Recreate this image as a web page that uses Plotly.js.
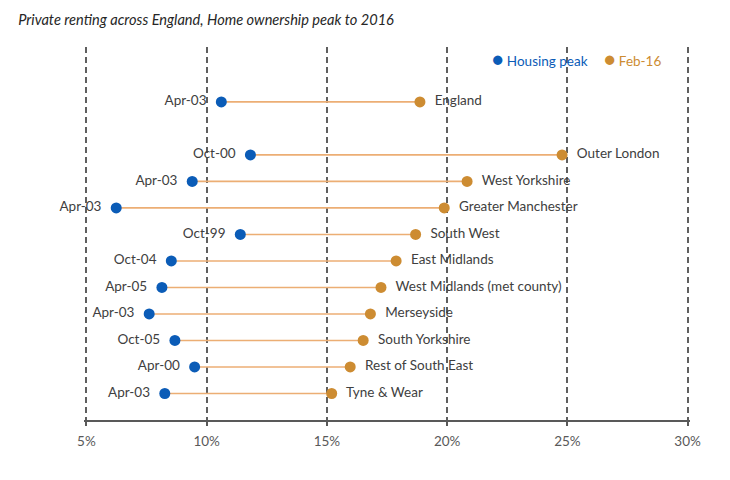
<!DOCTYPE html>
<html>
<head>
<meta charset="utf-8">
<script src="https://cdn.plot.ly/plotly-3.0.1.min.js"></script>
<style>html,body{margin:0;padding:0;background:#fff;}#chart{width:730px;height:480px;}</style>
</head>
<body>
<div id="chart"></div>
<script>
// Rows from bottom to top (England is the top row, set apart by a gap)
const regions = ["Tyne & Wear", "Rest of South East", "South Yorkshire", "Merseyside",
  "West Midlands (met county)", "East Midlands", "South West", "Greater Manchester",
  "West Yorkshire", "Outer London", "England"];
const peakDates = ["Apr-03", "Apr-00", "Oct-05", "Apr-03", "Apr-05", "Oct-04",
  "Oct-99", "Apr-03", "Apr-03", "Oct-00", "Apr-03"];
const peakValues = [8.26, 9.50, 8.68, 7.61, 8.14, 8.53, 11.40, 6.24, 9.40, 11.82, 10.61];
const feb16Values = [15.20, 15.97, 16.51, 16.81, 17.25, 17.88, 18.69, 19.88, 20.83, 24.78, 18.87];
const xTicks = [5, 10, 15, 20, 25, 30];
const xTickLabels = ["5%", "10%", "15%", "20%", "25%", "30%"];

const BLUE = "#0B5CB7";
const ORANGE = "#CD8C32";
const LINE = "#ECAE74";
const TEXT = "#404040";
const FONT = "Lato, 'Open Sans', sans-serif";

// row positions: consecutive, with one empty slot before the England row
const rowPos = regions.map((r, i) => (r === "England" ? i + 2 : i + 1));

const lineX = [], lineY = [];
regions.forEach((r, i) => {
  lineX.push(peakValues[i], feb16Values[i], null);
  lineY.push(rowPos[i], rowPos[i], null);
});

const traces = [
  {
    type: "scatter", mode: "lines", x: lineX, y: lineY,
    line: { color: LINE, width: 1.6 }, hoverinfo: "skip", showlegend: false
  },
  {
    type: "scatter", mode: "markers+text", name: "Housing peak",
    x: peakValues, y: rowPos, text: peakDates, textposition: "middle left",
    texttemplate: "%{text}\u00a0\u00a0",
    marker: { color: BLUE, size: 11 },
    textfont: { family: FONT, size: 13.5, color: TEXT },
    cliponaxis: false, showlegend: false, hoverinfo: "skip"
  },
  {
    type: "scatter", mode: "markers+text", name: "Feb-16",
    x: feb16Values, y: rowPos, text: regions, textposition: "middle right",
    texttemplate: "\u00a0\u00a0%{text}",
    marker: { color: ORANGE, size: 11 },
    textfont: { family: FONT, size: 13.5, color: TEXT },
    cliponaxis: false, showlegend: false, hoverinfo: "skip"
  }
];

const ML = 83.6, MR = 39.6, PW = 730 - ML - MR;

const layout = {
  width: 730, height: 480,
  margin: { l: ML, r: MR, t: 47, b: 60 },
  paper_bgcolor: "#ffffff", plot_bgcolor: "#ffffff",
  font: { family: FONT, color: TEXT, size: 13 },
  title: {
    text: "<i>Private renting across England, Home ownership peak to 2016</i>",
    x: 0.025, xref: "container", xanchor: "left",
    y: 1 - 20 / 480, yref: "container", yanchor: "middle",
    font: { family: FONT, size: 14.6, color: "#262626" }
  },
  xaxis: {
    range: [4.9, 30.1], tickvals: xTicks, ticktext: xTickLabels,
    showgrid: true, gridcolor: "#5f5f5f", gridwidth: 1.5, griddash: "6px,4px",
    showline: true, linecolor: "#595959", linewidth: 1.5,
    ticks: "outside", ticklen: 4, tickcolor: "#595959", tickwidth: 1.5,
    ticklabelstandoff: 4,
    tickfont: { family: FONT, size: 13.5, color: "#595959" },
    zeroline: false, fixedrange: true
  },
  yaxis: {
    range: [0, 14.07], visible: false, showgrid: false, zeroline: false, fixedrange: true
  },
  showlegend: false,
  hovermode: false,
  annotations: [
    {
      xref: "paper", yref: "paper", x: (490 - ML) / PW, y: 1 - (58.5 - 47) / 373,
      xanchor: "left", yanchor: "middle", showarrow: false,
      text: "<span style='font-size:19px'>●</span> Housing peak",
      font: { family: FONT, size: 13.5, color: BLUE }
    },
    {
      xref: "paper", yref: "paper", x: (602 - ML) / PW, y: 1 - (58.5 - 47) / 373,
      xanchor: "left", yanchor: "middle", showarrow: false,
      text: "<span style='font-size:19px'>●</span> Feb-16",
      font: { family: FONT, size: 13.5, color: ORANGE }
    }
  ]
};

Plotly.newPlot("chart", traces, layout, { displayModeBar: false });
</script>
</body>
</html>
